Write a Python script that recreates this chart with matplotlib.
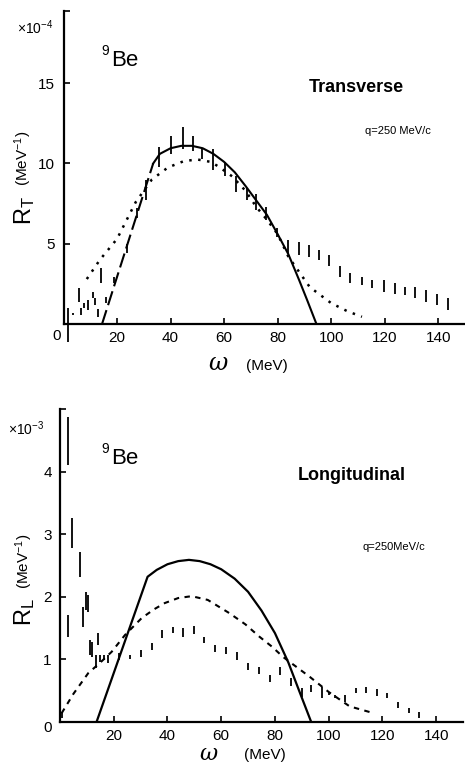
import matplotlib
matplotlib.use('Agg')
import matplotlib.pyplot as plt

plt.rcParams['font.family'] = ['Liberation Sans', 'DejaVu Sans']
plt.rcParams['mathtext.fontset'] = 'custom'
plt.rcParams['mathtext.rm'] = 'Liberation Sans'
plt.rcParams['mathtext.it'] = 'Liberation Sans:italic'

# ---- transverse response (x1e-4 MeV^-1) ----
rt_x_ticks = [20, 40, 60, 80, 100, 120, 140]
rt_y_ticks = [5, 10, 15]

# rising part of the solid curve (printed as long dashes)
rt_rise_w = [14.4, 33.5]
rt_rise = [0.0, 10.0]
rt_solid_w = [33.5, 36, 40, 44, 48, 52, 56, 60, 64, 68, 72, 76, 80, 84, 88, 91, 94.5]
rt_solid = [10.0, 10.6, 10.95, 11.1, 11.1, 10.95, 10.6, 10.1, 9.45, 8.6, 7.7, 6.8, 5.6,
            4.35, 2.75, 1.5, 0.0]
rt_dot_w = [8.7, 13.6, 20, 27, 33, 39, 45, 50, 55, 58, 63, 68, 72, 76, 80, 84, 92, 100,
            106, 111.5]
rt_dot = [2.8, 4.0, 5.3, 7.6, 9.0, 9.75, 10.15, 10.25, 10.1, 9.8, 9.2, 8.3, 7.3, 6.5,
          5.6, 4.2, 2.3, 1.3, 0.8, 0.45]
rt_data_w = [1.8, 3.7, 5.8, 6.5, 7.8, 9.0, 10.9, 11.8, 12.8, 14.0, 15.7, 19.0, 23.6, 27.3,
             31.0, 35.8, 40.0, 44.5, 48.2, 51.6, 55.9, 60.3, 64.3, 68.4, 72.1, 75.8, 79.8,
             83.9, 88.0, 91.7, 95.4, 99.2, 103.2, 107.2, 111.6, 115.4, 119.6, 123.7, 127.4,
             131.5, 135.5, 139.5, 143.6]
rt_data_lo = [-1.1, 0.55, 1.4, 0.55, 1.0, 0.9, 1.6, 1.2, 0.45, 2.55, 1.3, 2.55, 4.4, 6.6,
              7.75, 9.8, 10.6, 10.9, 10.75, 10.25, 9.6, 9.2, 8.2, 7.75, 7.1, 6.5, 5.4,
              4.4, 4.3, 4.2, 4.0, 3.6, 2.9, 2.55, 2.45, 2.25, 2.0, 1.9, 1.8, 1.6, 1.4,
              1.2, 0.9]
rt_data_hi = [1.0, 0.7, 2.25, 1.0, 1.3, 1.5, 2.0, 1.6, 0.95, 3.5, 1.7, 2.9, 5.0, 7.25,
              9.0, 11.0, 11.7, 12.25, 11.7, 10.9, 10.9, 10.1, 9.2, 8.5, 8.1, 7.3, 6.0,
              5.25, 5.1, 4.9, 4.6, 4.3, 3.6, 3.2, 2.95, 2.75, 2.75, 2.55, 2.3, 2.3, 2.1,
              1.9, 1.6]

# ---- longitudinal response (x1e-3 MeV^-1) ----
rl_x_ticks = [20, 40, 60, 80, 100, 120, 140]
rl_y_ticks = [1, 2, 3, 4]
rl_solid_w = [13.6, 32.6, 36, 40, 44, 48, 52, 56, 60, 65, 70, 75, 80, 85, 89, 93.5]
rl_solid = [0.0, 2.32, 2.43, 2.52, 2.57, 2.59, 2.57, 2.52, 2.44, 2.29, 2.08, 1.78, 1.42,
            0.95, 0.5, 0.0]
rl_dash_w = [0.6, 5, 10.5, 15, 19.2, 24.2, 30.4, 35, 39, 44, 49, 55, 63, 69, 74.3, 79, 83,
             88, 93, 100, 107.8, 116]
rl_dash = [0.14, 0.45, 0.78, 0.95, 1.12, 1.39, 1.66, 1.8, 1.9, 1.98, 2.01, 1.95, 1.74,
           1.56, 1.36, 1.2, 1.04, 0.88, 0.72, 0.48, 0.25, 0.15]
rl_data_w = [0.6, 3.1, 4.35, 7.3, 3.1, 8.4, 9.7, 10.5, 11.2, 12.0, 13.3, 14.2, 14.9, 16.5,
             18.0, 21.9, 26.0, 30.1, 34.1, 38.0, 42.1, 45.8, 49.9, 53.6, 57.6, 61.7, 65.9,
             70.0, 74.0, 78.0, 82.0, 86.1, 89.9, 93.6, 97.6, 100.1, 102.2, 106.0, 110.0,
             114.0, 118.0, 121.8, 125.8, 129.9, 133.8]
rl_data_lo = [0.06, 4.11, 2.78, 2.32, 1.35, 1.52, 1.79, 1.76, 1.07, 1.04, 0.86, 1.23, 0.96,
              0.99, 0.94, 0.99, 1.0, 1.04, 1.15, 1.34, 1.42, 1.36, 1.41, 1.26, 1.12, 1.09,
              0.99, 0.83, 0.77, 0.64, 0.75, 0.58, 0.40, 0.48, 0.38, 0.43, 0.38, 0.32, 0.46,
              0.46, 0.42, 0.38, 0.22, 0.14, 0.06]
rl_data_hi = [0.16, 4.88, 3.26, 2.72, 1.71, 1.84, 2.08, 2.03, 1.31, 1.28, 1.07, 1.42, 1.07,
              1.07, 1.07, 1.10, 1.07, 1.15, 1.26, 1.47, 1.52, 1.50, 1.54, 1.36, 1.23, 1.20,
              1.12, 0.94, 0.88, 0.75, 0.88, 0.70, 0.54, 0.59, 0.56, 0.48, 0.43, 0.43, 0.54,
              0.56, 0.53, 0.46, 0.32, 0.22, 0.16]

W, H = 465.0, 768.0
tick_font = ['Liberation Sans', 'DejaVu Sans']


def px(x, y):
    # pixel position (from top left) to figure fraction
    return x / W, 1 - y / H


def style_axes(ax, ymax, xticks, yticks):
    ax.set_xlim(0, 150)
    ax.set_ylim(0, ymax)
    for s in ['top', 'right']:
        ax.spines[s].set_visible(False)
    for s in ['left', 'bottom']:
        ax.spines[s].set_linewidth(1.6)
    ax.set_xticks(xticks)
    ax.set_xticklabels([str(t) for t in xticks], fontfamily=tick_font, fontsize=11)
    ax.set_yticks(yticks + [ymax])
    ax.set_yticklabels([str(t) for t in yticks] + [''], fontfamily=tick_font, fontsize=11)
    ax.tick_params(axis='x', direction='in', length=4, width=1.2, pad=5)
    ax.tick_params(axis='y', direction='in', length=4, width=1.2, pad=6)
    ax.patch.set_alpha(0)


fig = plt.figure(figsize=(4.65, 7.68), dpi=100)

# ---------------- Transverse ----------------
ax1 = fig.add_axes([63.5 / W, 1 - 324 / H, (465 - 63.5) / W, 313 / H])
style_axes(ax1, 19.5, rt_x_ticks, rt_y_ticks)
ax1.plot(rt_rise_w, rt_rise, color='black', lw=1.5, ls=(0, (7, 2.5)))
ax1.plot(rt_solid_w, rt_solid, color='black', lw=1.5)
ax1.plot(rt_dot_w, rt_dot, color='black', lw=1.8, ls=(0, (1, 2.6)))
ax1.vlines(rt_data_w, rt_data_lo, rt_data_hi, color='black', lw=1.3, clip_on=False)

fig.text(*px(57, 336), '0', fontsize=11, fontfamily=tick_font, ha='center', va='center')
fig.text(*px(35, 28), r'$\times 10^{-4}$', fontsize=10, ha='center', va='center')
fig.text(*px(105, 51), '9', fontsize=10, ha='center', va='center')
fig.text(*px(125, 61), 'Be', fontsize=16, ha='center', va='center')
fig.text(*px(356, 87), 'Transverse', fontsize=13, fontweight='bold', ha='center',
         va='center')
fig.text(*px(398, 131), 'q=250 MeV/c', fontsize=8, ha='center', va='center')
fig.text(*px(25, 210), r'R$_\mathrm{T}$', fontsize=17, rotation=90, ha='center',
         va='center')
fig.text(*px(23, 158), r'(MeV$^{-1}$)', fontsize=11, rotation=90, ha='center',
         va='center')
fig.text(*px(218, 364), 'ω', fontsize=17, fontfamily='DejaVu Serif', style='italic',
         ha='center', va='center')
fig.text(*px(267, 366), '(MeV)', fontsize=11, ha='center', va='center')

# ---------------- Longitudinal ----------------
ax2 = fig.add_axes([60 / W, 1 - 722 / H, (463 - 60) / W, 313 / H])
style_axes(ax2, 5.0, rl_x_ticks, rl_y_ticks)
ax2.plot(rl_solid_w, rl_solid, color='black', lw=1.6)
ax2.plot(rl_dash_w, rl_dash, color='black', lw=1.5, ls=(0, (2.6, 2.6)))
ax2.vlines(rl_data_w, rl_data_lo, rl_data_hi, color='black', lw=1.3, clip_on=False)

fig.text(*px(48, 728), '0', fontsize=11, fontfamily=tick_font, ha='center', va='center')
fig.text(*px(26, 429), r'$\times 10^{-3}$', fontsize=10, ha='center', va='center')
fig.text(*px(105, 449), '9', fontsize=10, ha='center', va='center')
fig.text(*px(125, 458), 'Be', fontsize=16, ha='center', va='center')
fig.text(*px(352, 476), 'Longitudinal', fontsize=13, fontweight='bold', ha='center',
         va='center')
fig.text(*px(394, 547), 'q=250MeV/c', fontsize=8, ha='center', va='center')
fig.text(*px(25, 612), r'R$_\mathrm{L}$', fontsize=17, rotation=90, ha='center',
         va='center')
fig.text(*px(24, 561), r'(MeV$^{-1}$)', fontsize=11, rotation=90, ha='center',
         va='center')
fig.text(*px(208, 754), 'ω', fontsize=16, fontfamily='DejaVu Serif', style='italic',
         ha='center', va='center')
fig.text(*px(265, 755), '(MeV)', fontsize=11, ha='center', va='center')

fig.savefig('out.png', dpi=100)
plt.close(fig)
